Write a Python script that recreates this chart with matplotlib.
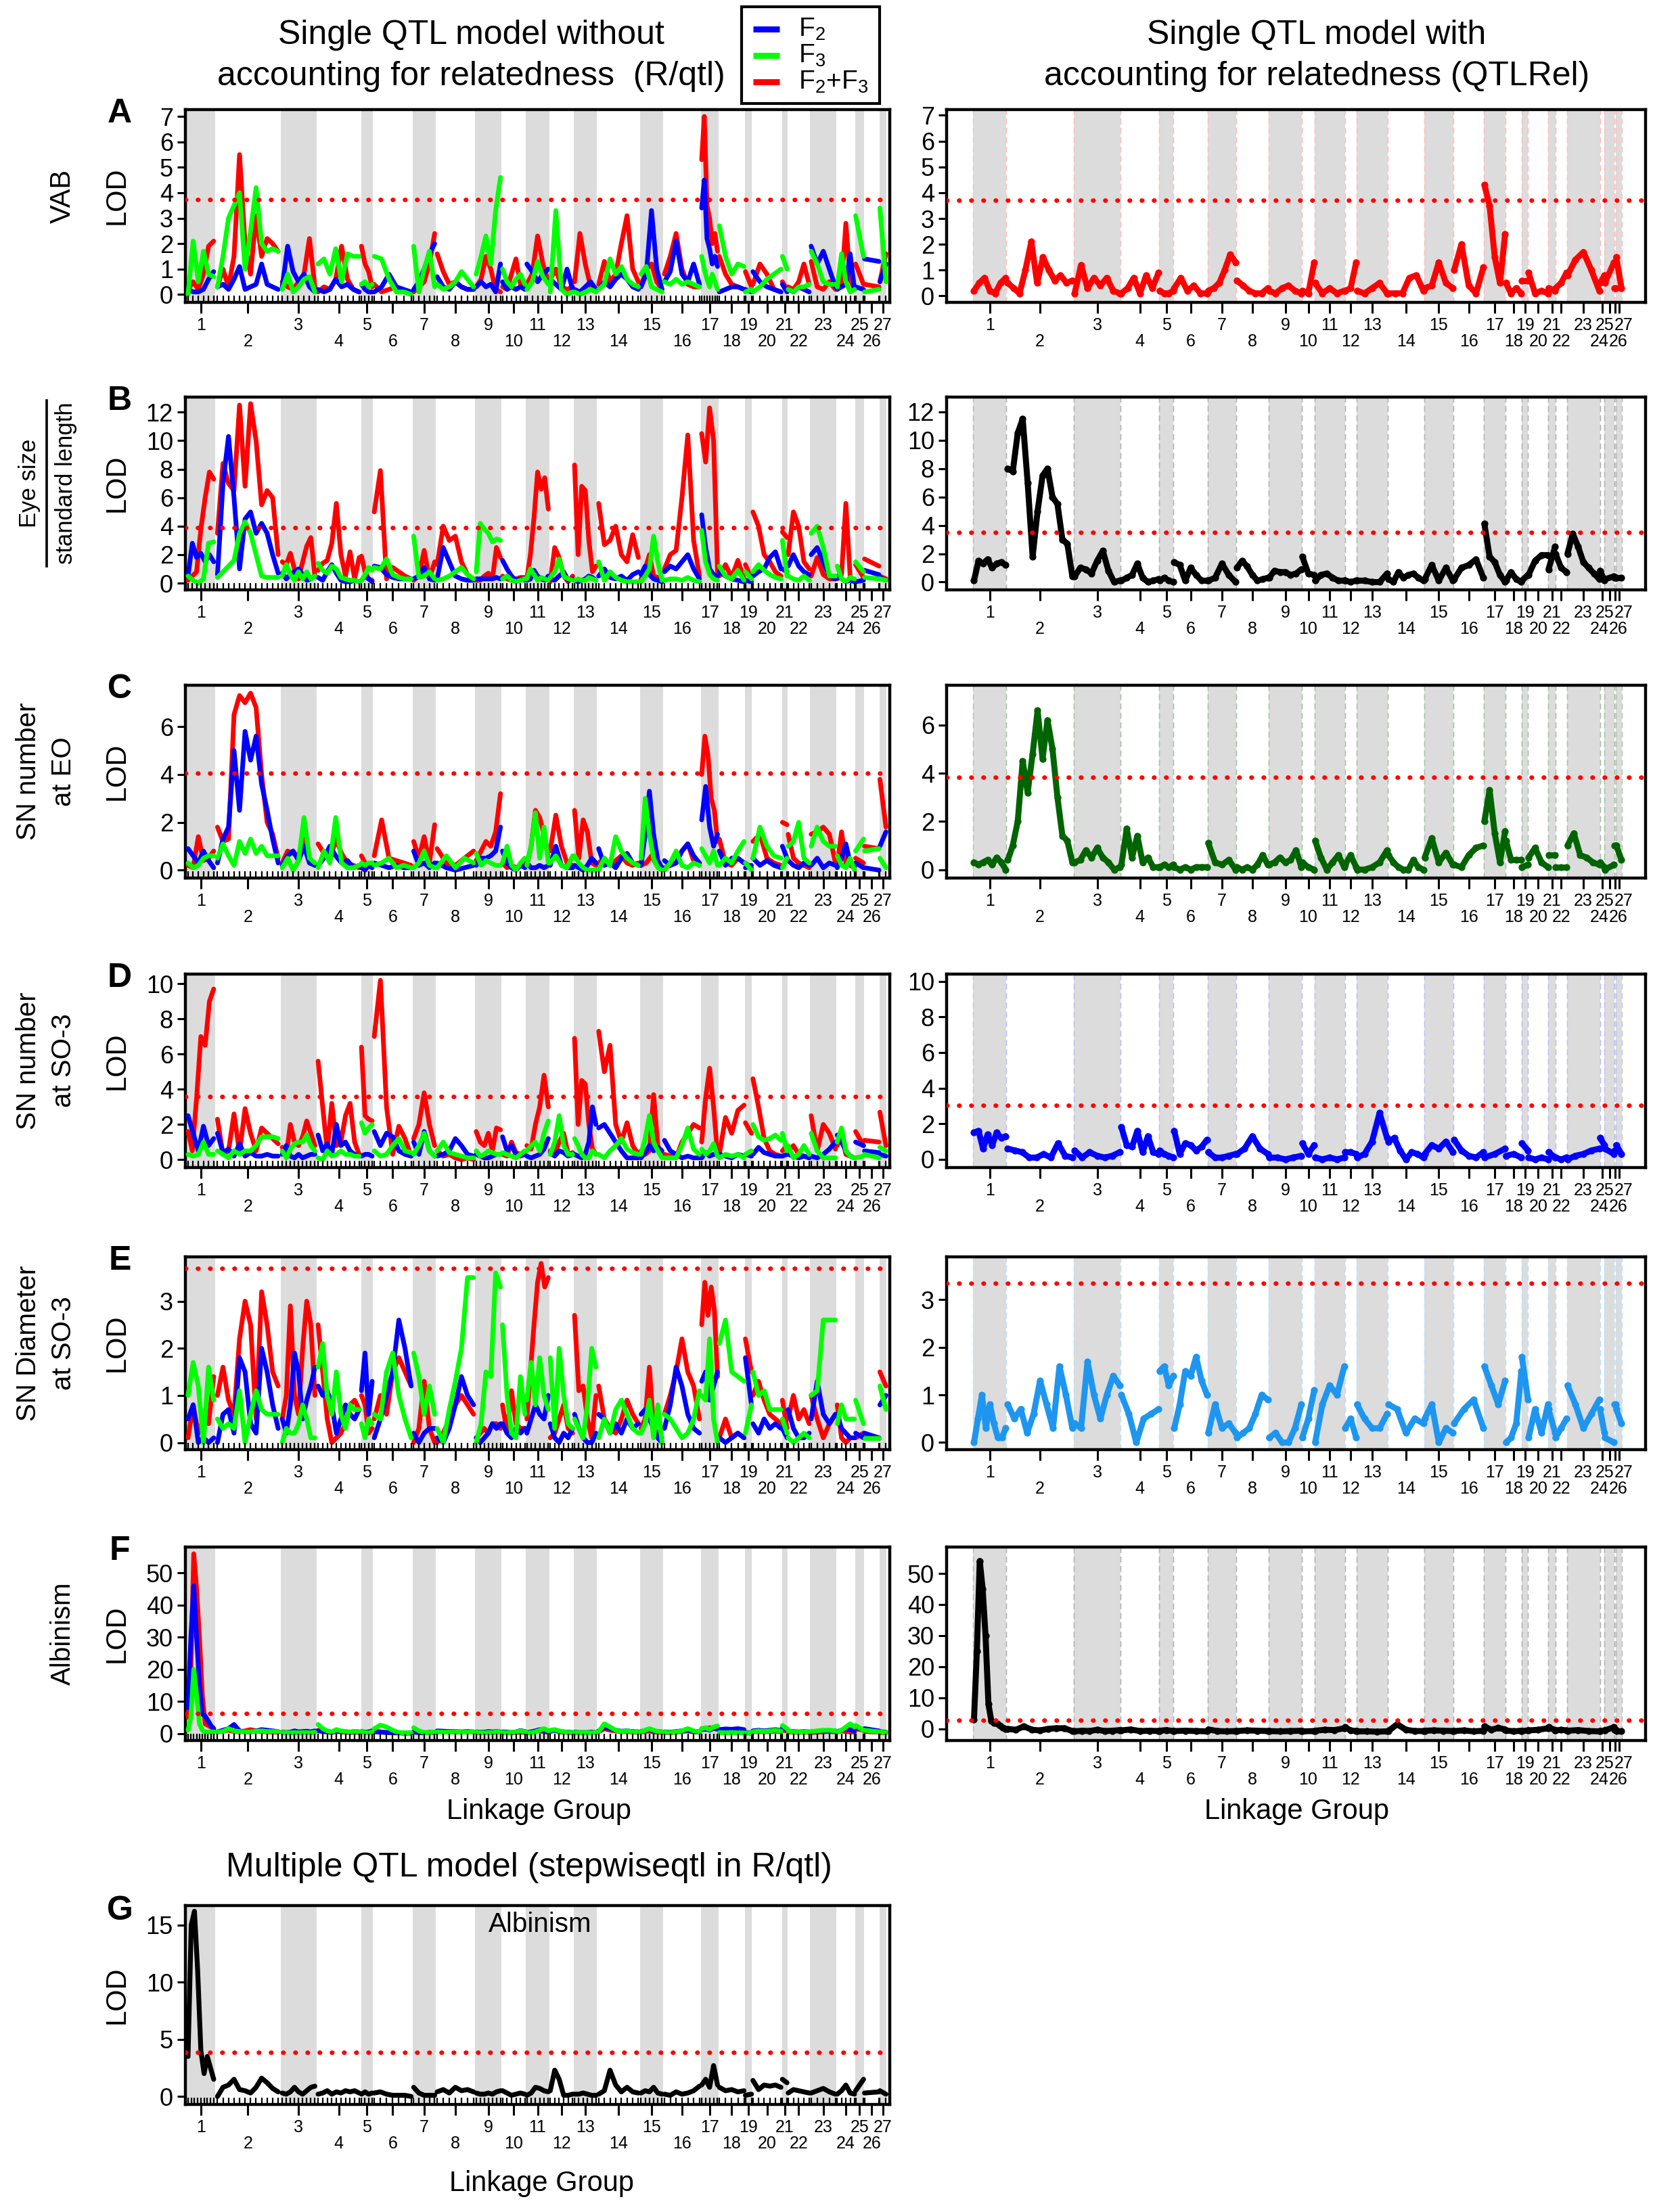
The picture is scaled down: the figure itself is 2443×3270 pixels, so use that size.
import numpy as np
import matplotlib
matplotlib.use("Agg")
import matplotlib.pyplot as plt
from matplotlib.lines import Line2D
from matplotlib.patches import Rectangle
from matplotlib.transforms import blended_transform_factory, offset_copy

plt.rcParams['font.family'] = ['Liberation Sans', 'DejaVu Sans']
plt.rcParams['mathtext.fontset'] = 'custom'
plt.rcParams['mathtext.rm'] = 'Liberation Sans'
plt.rcParams['mathtext.default'] = 'regular'

W, H, DPI = 2443, 3270, 200

CHROMS = [str(i) for i in range(1, 28)]
# linkage group widths (plot units)
LEFT_LEN = [55, 130, 70, 88, 23, 79, 45, 78, 52, 48, 46, 48, 46, 85, 45, 75, 34, 53, 13, 60, 10, 45, 52, 37, 17, 31, 13]
RIGHT_LEN = [72, 146, 102, 84, 31, 74, 62, 70, 73, 27, 66, 25, 68, 79, 64, 66, 47, 35, 14, 44, 15, 25, 72, 10, 21, 4, 12]

# ---- panel A : VAB ----
A_F2 = [[0.2,0.1,0.1,0.2,0.6,0.9],[0.3,0.4,0.2,0.6,1.1,0.2,0.3,0.4,1.2,0.4,0.3,0.2],[0.3,1.9,0.9,0.5,0.8,0.3,0.1],
        [0.2,0.1,0.2,0.6,0.3,0.4,0.2,0.1],[0.4,0.2,0.1,0.1],[0.1,0.3,0.8,0.3,0.2,0.1],[0.2,0.5,1.0,1.6,2.0],
        [0.7,0.3,0.2,0.5,0.3,0.2,0.2],[0.3,0.5,0.3,0.4,0.1,1.2],[0.5,0.2,0.3,0.2,0.3,0.2],[1.2,0.9,0.5,0.8,1.0],
        [0.6,0.4,0.2,1.0,0.2],[0.2,0.1,0.3,0.5,0.2],[0.2,0.5,0.3,0.6,0.8,0.6,0.3,0.2],[0.3,0.8,3.3,1.0,0.2],
        [0.5,0.9,2.1,0.8,0.5,1.2,0.4],[3.4,4.5,2.2,1.8,1.2,1.5,1.1],[0.1,0.2,0.3,0.3,0.2],[0.2,0.1],
        [0.9,0.5,0.3,0.2,0.1],[0.4,0.1],[0.2,0.1,0.3,0.2,0.1],[1.9,1.2,1.7,1.0,0.3],[0.2,0.3,0.4,1.6,0.2],
        [0.3,0.2],[1.4,1.3],[0.5,1.2]]
A_F3 = [[0.0,2.1,0.5,1.7,0.8,0.7],[0.3,1.5,3.0,3.5,4.0,1.0,2.5,4.2,2.0,1.7,1.8,1.7],[0.2,0.8,0.1,0.3,0.6,0.7,0.1],
        [1.2,1.4,0.8,1.8,0.5,1.6,1.5,1.5],[0.4,0.5,0.3,0.4],[1.5,1.4,0.6,0.1,0.1,0.0],[1.9,0.1,1.0,1.7,0.3],
        [0.4,0.2,0.3,0.5,0.9,0.6,0.3],[0.8,1.5,2.3,1.2,3.3,4.6],[1.0,0.5,0.3,0.6,0.8,0.4],[0.2,0.5,1.3,0.7,0.4],
        [0.1,3.3,0.2,0.0,0.1],[0.1,0.0,0.1,0.2,0.1],[0.2,0.4,1.4,0.8,1.1,0.6,0.4,0.3],[0.8,1.1,0.3,0.2,0.1],
        [0.5,0.4,0.6,0.4,0.5,0.4,0.3],[1.5,1.0,0.6,0.3,0.8,0.5,0.2],[2.7,1.5,0.8,1.2,1.1],[0.1,0.2],
        [0.1,0.3,0.6,0.8,1.0],[1.5,1.0],[0.2,0.1,0.3,0.3,0.4],[1.7,1.2,0.5,0.4,0.4],[0.3,1.6,0.5,0.1,0.2],
        [3.1,1.5],[0.1,0.2],[3.4,0.5]]
A_F23 = [[0.2,0.5,0.2,0.8,1.9,2.1],[0.3,1.0,0.3,1.5,5.5,2.0,0.8,3.1,1.5,2.2,2.0,1.7],[0.5,0.3,0.2,0.5,0.8,2.2,0.3],
         [0.1,0.3,0.2,0.6,1.9,0.6,0.2,0.1],[1.9,1.2,0.9,0.3],[0.4,0.1,0.2,0.3,0.1,0.1],[0.1,0.3,0.5,1.2,2.4],
         [1.6,0.9,0.4,0.5,0.3,0.2,0.2],[0.3,0.6,1.5,1.0,0.2,0.1],[0.3,0.2,0.8,1.4,0.4,0.2],[0.4,0.8,2.3,1.2,0.5],
         [0.6,1.0,0.3,0.2,0.3],[0.5,2.4,1.2,0.3,0.1],[0.4,1.3,0.5,0.8,2.0,3.1,1.0,0.5],[0.3,1.0,1.2,0.5,0.2],
         [0.8,1.5,2.4,1.0,0.4,0.3,0.3],[5.3,7.0,3.5,3.0,2.0,2.4,1.7],[1.5,0.8,0.4,0.3,0.2],[0.9,0.3],
         [0.4,1.2,0.8,0.2,0.1],[0.5,0.2],[0.3,0.2,0.5,1.2,0.4],[1.3,0.3,0.2,0.5,0.2],[0.3,0.4,2.8,0.6,0.2],
         [1.2,0.4],[0.4,0.3],[0.5,1.6]]

# ---- panel B : eye size / standard length ----
B_F2 = [[0.5,2.8,1.8,2.1,1.5,2.0,1.5],[0.6,7.0,10.3,6.0,1.0,4.5,5.0,3.5,4.2,3.5,2.0,0.7],[0.7,0.3,0.6,0.8,1.0,0.6,0.2,0.3,0.5],
        [0.4,0.2,0.8,1.3,0.7,0.2,0.1,0.1,0.2,0.1],[0.2,0.5,0.3,0.1],[1.2,1.1,0.6,0.4,0.3,0.3,0.3],[0.3,0.5,1.1,0.3,0.2],
        [0.3,2.5,1.5,0.5,0.3,0.2,0.2],[0.3,0.3,0.3,0.3,0.3,0.4,0.3],[1.6,1.0,0.5,0.2,0.3,0.2],[0.2,0.3,0.9,0.5,0.3,0.2,0.5],
        [0.3,0.2,0.5,0.8,0.2,0.3],[0.2,0.1,0.2,0.3,0.5,0.4,0.2],[0.5,1.0,0.4,0.3,0.5,0.2,0.6,0.8],[0.6,1.2,0.6,0.3,0.2,0.1],
        [0.8,1.2,1.0,1.5,2.0,1.0,0.3],[4.8,2.5,1.0,0.6,0.5],[0.8,0.5,0.3,0.2,0.1],[0.2,0.1],[0.5,0.8,1.0,1.8,2.2,1.0],
        [1.0,0.8],[1.2,2.0,1.2,0.8,0.6],[2.0,2.5,1.5,0.5,0.3],[0.5,0.3,0.1,0.2,0.1],[0.1,0.2],[0.9,0.6],[0.4,0.2]]
B_F3 = [[0.5,0.2,0.0,0.3,2.8,2.9],[0.4,0.8,1.2,1.6,3.5,4.3,3.5,2.0,0.5,0.4,0.4,0.4],[0.5,1.3,0.6,0.2,0.8,0.3,0.8,0.3,0.5],
        [1.4,0.9,0.7,1.2,1.0,0.4,0.3,0.2,0.2,0.1],[0.2,0.6,1.1,0.9],[1.1,1.0,1.7,0.6,0.4,0.3,0.3],[3.3,0.4,0.5,0.8,0.3],
        [0.2,0.3,0.5,0.8,1.1,0.6,0.3],[0.8,4.2,3.8,3.5,2.9,3.1,3.0],[0.3,0.5,0.2,0.1,0.2,0.3],[0.3,1.0,0.6,0.2,0.4,0.3,0.2],
        [0.4,0.8,1.7,0.5,0.3,0.2],[0.2,0.3,0.2,0.2,0.4,0.3,0.2],[1.5,0.2,0.8,0.4,0.2,0.1,0.1,0.1],[0.1,0.5,1.0,3.3,1.5,0.2],
        [0.2,0.3,0.3,0.2,0.4,0.2,0.1],[3.7,1.5,0.6,0.3,0.2],[1.2,0.5,0.3,0.9,0.2],[0.8,0.3],[0.8,1.3,0.9,0.6,0.4,0.3],
        [3.0,0.5],[0.5,0.3,0.2,0.5,0.2],[3.5,4.0,2.5,0.5,0.5],[1.2,0.3,0.1,0.4,0.3],[1.5,0.8],[0.4,0.3],[0.3,0.2]]
B_F23 = [[0.2,0.5,0.8,3.8,6.0,7.8,7.3],[3.5,8.4,7.0,6.5,12.5,6.8,12.6,10.0,5.5,6.5,6.0,2.0],[1.5,1.3,2.1,1.0,0.3,1.5,2.6,3.2,0.5],
         [0.9,1.4,1.6,2.8,5.6,2.0,0.5,2.2,0.3,1.8],[1.9,0.8,0.3,0.2],[5.0,7.9,0.3,1.1,0.8,0.5,0.3],[0.2,0.5,2.3,0.3,1.5],
         [1.3,4.0,3.0,3.3,1.5,0.6,0.3],[0.2,0.2,0.5,0.7,0.3,2.5,1.8],[0.5,0.3,0.2,0.3,0.4,0.4],[0.3,2.0,4.6,7.8,6.6,7.4,5.2],
         [0.1,2.5,1.8,0.5,0.1,0.5],[8.3,2.0,6.8,6.5,3.0,0.8,1.2],[5.6,2.7,3.0,4.0,2.0,1.5,3.4,1.8],[0.3,1.0,2.0,0.5,0.4,0.2],
         [1.0,2.0,2.3,6.0,10.4,3.0,0.5],[10.5,8.5,12.3,10.0,0.8],[0.5,1.3,0.4,1.6,0.3],[1.3,0.3],[5.0,4.0,2.0,1.5,0.8,0.5],
         [3.6,3.2],[2.0,5.0,4.0,1.5,1.0],[0.5,1.8,0.6,0.3,0.3],[0.3,0.6,5.6,0.4,0.2],[1.3,0.4],[1.7,1.2],[0.5,0.3]]

# ---- panel C : SN number at EO ----
C_F2 = [[0.9,0.6,0.3,0.8,0.4,0.1],[0.3,1.3,1.8,5.0,2.5,5.8,4.6,5.6,3.6,2.5,1.3,0.3],[0.2,0.6,0.8,0.4,1.0,0.3,0.2],
        [0.2,0.5,1.0,0.6,0.3,0.4,0.1,0.2],[0.1,0.0,0.2,0.1],[0.3,0.2,0.1,0.2,0.1,0.1],[0.8,0.2,0.3,0.1,0.3],
        [0.3,0.1,0.0,0.1,0.2],[0.2,0.5,0.5,0.6,0.8,1.8],[0.8,0.3,0.1,0.0,0.2,0.1],[0.3,0.1,0.1,0.2,0.1,0.2],
        [0.2,1.0,0.2,0.1,0.1],[0.2,0.1,0.0,0.2,0.5,0.3],[0.9,0.2,0.3,0.1,0.5,0.7,0.3,0.2],[0.2,1.5,3.3,1.5,0.4,0.1],
        [0.4,0.2,0.3,0.8,1.1,0.6,0.3],[2.1,3.5,1.8,1.0,1.5],[0.8,0.2,0.5,0.5,0.3],[0.1,0.2],[0.5,0.2,0.4,0.2,0.1],
        [1.0,0.5],[0.4,0.2,0.1,0.3,0.2],[0.2,0.5,0.1,0.3,0.2],[0.1,0.5,1.1,0.3,0.2],[0.3,0.1],[0.1,0.0],[1.0,1.6]]
C_F3 = [[0.3,0.1,0.2,0.5,0.6,0.6],[0.5,1.1,0.6,0.2,1.2,0.7,1.3,0.7,1.0,0.6,0.6,0.6],[0.1,0.5,0.0,0.4,2.2,0.5,0.3],
        [0.1,0.8,0.3,2.2,0.3,0.1,0.1,0.2],[0.3,0.2,0.3,0.3],[0.2,0.3,0.5,0.1,0.2,0.1],[0.1,0.3,0.8,0.2,0.1],
        [0.1,0.6,0.1,0.5,0.3],[0.7,0.2,0.4,0.3,0.2,0.2],[0.3,1.0,0.2,0.0,0.3,0.5],[0.2,1.0,2.4,0.5,1.8,0.3],
        [0.3,0.6,0.2,0.1,0.6],[0.6,0.3,0.1,0.0,0.0,0.0],[0.0,0.5,0.2,1.4,0.8,0.5,0.3,0.2],[0.5,3.0,1.5,0.5,0.1,0.0],
        [0.0,0.3,0.8,0.2,0.1,0.3,0.2],[0.9,0.6,0.3,0.8,0.2],[0.2,0.5,0.3,0.8,1.2],[0.3,0.0],[0.5,1.8,1.0,0.6,0.5],
        [0.1,0.5],[1.0,1.2,2.0,0.5,0.3],[1.0,1.8,1.2,1.0,1.0],[0.6,0.2,0.1,0.5,0.0],[0.8,1.3],[0.8,0.9],[0.5,0.1]]
C_F23 = [[0.2,0.1,1.4,0.4,0.5,0.8],[1.8,1.2,1.3,6.5,7.3,7.0,7.4,6.8,4.0,2.0,1.5,0.5],[0.3,0.8,0.7,0.6,1.3,0.5,0.2],
         [1.1,0.7,0.4,1.3,0.7,0.3,0.2,0.1],[0.6,0.3,0.2,0.2],[0.6,2.1,0.5,0.4,0.3,0.2],[1.2,0.5,1.4,0.3,1.9],
         [0.9,0.3,0.2,0.5,0.8],[0.4,0.8,1.2,1.0,1.6,3.2],[0.3,0.1,0.2,0.1,0.2,0.3],[0.2,1.0,2.5,2.2,1.5,0.5],
         [0.8,2.3,1.0,0.3,0.2],[2.5,0.5,2.1,1.6,0.3,0.2],[0.3,0.5,0.2,0.4,0.6,0.3,0.2,0.3],[0.2,0.3,0.6,0.2,0.1],
         [0.1,0.2,0.3,0.8,1.1,0.4,0.2],[4.0,5.6,4.8,3.0,2.5,1.2],[1.3,0.3,0.2,0.5,0.3],[0.3,0.1],[1.2,1.5,0.5,0.3,0.2],
         [2.0,1.9],[1.5,0.5,0.3,0.2,0.1],[1.5,1.6,1.8,1.5,0.3],[0.2,1.6,0.3,0.2,0.1],[0.5,0.3],[1.0,0.9],[3.8,1.8]]

# ---- panel D : SN number at SO-3 ----
D_F2 = [[2.5,1.5,0.5,1.9,0.8,1.2],[1.5,0.4,0.6,0.2,0.9,0.2,0.4,0.2,0.2,0.3,0.2,0.2],[0.3,0.8,0.2,0.1,0.3,0.1,0.2,0.3,0.3],
        [1.4,0.5,0.9,0.3,2.0,0.8,1.0,0.5,0.3,0.2],[0.2,0.3,0.3,0.2],[1.6,0.8,1.5,1.3,0.5,0.3,0.2],[1.0,0.3,1.6,0.5,0.2],
        [0.2,0.3,0.5,1.2,0.8,0.3,0.2],[0.3,0.2,0.1,0.1,0.2,0.3,0.3],[1.3,0.5,0.8,0.3,0.2,0.3],[0.2,0.1,0.2,0.3,0.6,1.2],
        [0.4,0.2,0.5,0.4,0.2,0.3],[0.3,0.2,0.1,0.3,1.0,3.0,2.0],[1.8,2.0,1.5,1.0,0.5,0.1,0.1,0.1],[0.1,0.4,0.8,0.5,0.7,0.5],
        [1.1,0.5,0.3,0.1,0.2,0.1,0.1],[0.1,0.4,0.2,0.3,0.3],[0.3,0.2,0.1,0.3,0.2],[0.3,0.2],[0.3,0.7,0.4,0.3,0.2,0.2],
        [0.2,0.3],[0.3,0.2,0.1,0.2,0.1],[0.2,0.1,0.3,0.6,1.0],[1.4,1.0,0.5,0.2,0.1],[1.0,0.8],[0.5,0.4],[0.3,0.2]]
D_F3 = [[0.3,0.2,0.3,1.0,0.3,0.3],[0.5,0.3,0.1,0.5,0.3,0.5,0.5,0.8,1.3,1.3,1.3,1.2],[0.5,0.1,0.6,0.9,1.0,1.0,1.4,0.8,0.5],
        [0.1,0.0,0.5,0.2,0.3,0.5,0.3,0.3,0.2,0.2],[2.1,1.5,1.8,2.0],[0.5,0.2,0.3,0.8,1.2,0.5,0.4],[0.3,0.8,1.5,0.5,0.2],
        [0.5,1.0,0.4,0.3,0.2,0.1,0.1],[0.5,0.2,0.3,0.5,0.4,0.3,0.3],[0.4,0.3,0.2,0.1,0.3,0.5],[0.5,0.8,1.0,0.5,1.5,2.2],
        [0.3,1.0,2.5,0.8,0.3,0.3],[1.2,0.8,0.3,0.1,0.1,0.5,0.3],[0.3,0.1,0.5,0.8,1.2,0.6,0.4,0.3],[0.3,1.2,2.5,1.0,0.5,0.1],
        [0.1,0.1,0.1,0.8,1.8,0.6,0.3],[0.6,0.3,0.5,0.9,0.2],[0.1,0.3,0.2,0.3,0.1],[0.3,0.5],[2.0,1.3,1.1,1.2,1.4,1.1],
        [1.5,0.5],[0.8,0.1,0.3,0.8,0.3],[1.5,0.5,0.1,0.1,0.1],[1.0,1.8,0.5,0.2,0.1],[0.1,0.2],[0.3,0.1],[0.7,0.5]]
D_F23 = [[1.6,0.5,3.5,7.0,6.5,9.0,9.7],[2.3,0.3,0.5,2.6,0.4,2.9,1.5,0.5,1.8,1.5,1.2,0.9],[0.7,0.3,2.0,1.0,0.8,1.3,2.2,1.5,0.8],
         [5.6,3.0,0.5,3.2,0.8,1.0,2.5,3.2,1.0,0.3],[6.4,2.5,2.3,2.2],[7.0,10.2,3.0,0.3,1.9,1.2,0.2],[1.2,2.0,3.8,2.0,0.8],
         [0.5,0.2,0.3,0.1,0.0,0.1,0.0],[1.6,1.0,0.8,1.5,0.5,1.8,1.7],[0.3,0.2,1.0,0.4,0.3,0.5],[0.8,0.6,2.0,3.0,4.8,3.0],
         [0.5,0.3,1.0,1.5,0.3,0.4],[6.9,2.0,4.5,4.3,2.0,0.6,0.3],[7.3,5.0,6.5,2.0,1.0,2.1,0.8,0.3],[0.5,0.3,0.5,3.7,0.8,0.2],
         [0.3,0.2,0.1,1.0,1.5,2.0,1.8],[1.0,3.5,5.2,3.0,0.3],[0.3,2.4,1.5,2.8,3.1],[2.1,1.5],[4.6,3.0,1.2,0.5,0.3,0.2],
         [0.5,0.8],[0.5,0.8,0.3,0.2,0.1],[2.5,0.5,2.0,1.5,0.6],[0.8,1.5,0.3,0.2,0.1],[1.6,0.8],[1.1,1.0],[2.7,0.8]]

# ---- panel E : SN diameter at SO-3 ----
E_F2 = [[0.5,0.8,0.0,0.1,0.0,0.1],[0.0,0.6,0.7,0.2,1.8,1.5,0.4,0.2,2.0,1.5,0.8,0.3],[0.5,0.2,0.8,1.9,1.5,0.5,0.9,1.2,1.6],
        [1.2,1.0,1.1,0.8,0.2,0.5,0.8,0.6,0.5,0.7],[1.1,1.9,0.6,1.3],[0.1,0.5,1.0,1.5,2.6,2.0,1.2],[0.2,0.0,0.2,0.3,0.3],
        [0.1,0.0,0.3,0.8,1.4,1.0,0.8],[0.1,0.0,0.1,0.2,0.4,0.3,0.4],[0.4,0.2,0.1,0.3,0.2,0.3],[0.2,0.5,0.8,0.6,0.5,1.0],
        [0.4,0.1,0.0,0.2,0.1,0.3],[0.6,0.3,0.1,0.0,0.0,0.2],[0.6,0.5,0.2,0.4,0.2,0.5,0.3,0.4],[0.6,0.7,0.5,0.3,0.1,0.0],
        [0.3,0.8,1.6,1.2,0.6,0.3,0.2],[1.3,1.5,0.9,1.2,1.5],[0.1,0.0,0.1,0.2,0.1],[1.8,0.8],[0.4,0.2,0.5,0.3,0.4,0.3],
        [0.3,0.1],[0.7,0.3,0.1,0.1,0.2],[0.5,1.3,0.6,0.4,0.6],[0.6,0.3,0.2,0.1,0.1],[0.2,0.1],[0.2,0.1],[0.8,1.0]]
E_F3 = [[1.0,1.7,1.2,0.0,1.6,0.9],[0.5,0.3,0.4,0.3,1.1,0.0,0.6,1.1,0.7,0.6,0.6,0.6],[0.0,0.3,0.2,0.2,0.4,0.8,0.5,0.1,0.1],
        [1.6,2.1,1.0,0.6,1.5,0.6,0.3,0.8,0.7,0.7],[0.4,0.1,0.5,0.4],[0.6,0.5,1.5,1.9,1.0,0.5,0.1],[1.9,1.4,0.6,1.2,0.6],
        [0.3,0.0,0.7,1.3,2.0,3.5,3.5],[0.0,0.4,1.5,1.4,3.6,3.3],[2.5,1.0,0.2,0.1,1.4,0.6],[0.9,1.7,0.8,1.8,1.0,0.7],
        [1.8,0.3,2.0,1.0,0.4,0.3],[0.5,0.3,0.1,0.8,2.0,1.6],[0.1,0.5,0.2,0.7,0.9,0.6,0.3,0.2],[0.2,0.4,0.9,0.1,0.8,0.0],
        [0.6,0.5,0.3,0.1,0.2,0.5,1.1],[1.0,0.9,2.2,0.5,0.0],[2.1,2.6,1.5,1.4,1.3],[0.2,0.8],[1.5,1.0,1.1,0.7,0.7,0.7],
        [0.5,0.2],[0.1,0.0,0.1,0.2,0.1],[1.0,1.1,2.6,2.6,2.6],[0.4,0.8,0.5,0.5,0.5],[0.9,0.4],[0.1,0.1],[1.2,0.7]]
E_F23 = [[0.1,0.8,0.2,0.5,0.4,1.4],[1.0,1.6,0.9,0.6,2.2,3.0,2.5,0.5,3.2,2.5,1.5,1.2],[0.5,1.0,2.9,1.0,0.6,2.0,3.0,2.5,1.0],
         [2.5,1.5,0.5,0.0,0.1,0.2,0.4,0.8,0.9,0.7],[1.0,0.8,0.2,0.3],[0.5,1.0,0.6,1.5,1.8,1.5,1.2],[0.0,0.3,1.3,0.3,0.0],
         [0.0,0.2,0.5,0.8,1.0,0.8,0.6],[0.1,0.2,0.3,0.2,0.4,0.4,0.3],[0.8,0.2,1.1,0.4,0.3,0.3],[0.5,1.5,2.5,3.4,3.8,3.3,3.5],
         [0.1,0.2,0.5,0.8,0.3,0.2],[2.7,1.1,1.2,0.5,0.1,1.0],[1.2,0.5,0.3,0.2,0.5,0.9,0.6,0.4],[0.3,0.5,1.6,0.3,0.2,0.1],
         [0.6,1.0,1.5,2.2,1.5,1.2,0.5],[2.5,3.4,2.7,3.3,2.8,1.4],[0.1,0.5,0.1,0.2,0.1],[2.2,1.5],[1.0,1.3,0.9,0.6,0.5,0.4],
         [0.9,0.3],[0.5,1.0,0.5,0.7,0.4],[1.0,0.5,0.1,0.4,0.6],[0.8,0.1,0.0,0.1,0.1],[0.1,0.2],[0.1,0.1],[1.5,1.2]]

# ---- panel F : albinism ----
F_F2 = [[8,30,46,30,15,6,5.5,4,2.5,1.5],[0.5,1.0,1.5,2.8,0.8,0.5,0.6,0.8,1.2,1.0,0.8,0.6],[0.4,0.3,0.4,0.8,0.5,0.6,0.7,0.5,0.8],
        [0.8,0.6,0.5,0.4,0.8,0.6,0.5,0.4,0.6,0.5],[0.6,0.4,0.5,0.8],[0.5,0.4,0.3,0.2,0.2,0.1,0.2],[0.4,0.3,0.2,0.3,0.3],
        [0.8,0.7,0.6,0.6,0.5,0.6,0.5],[0.5,0.4,0.4,0.6,0.5,0.6,0.5],[0.5,0.4,0.3,0.5,0.9,0.6],[0.3,0.5,0.8,1.2,0.8,0.6],
        [0.8,1.0,0.6,0.5,0.4,0.3],[0.4,0.3,0.3,0.3,0.4,0.3],[0.8,2.0,1.5,1.0,0.7,0.8,0.6,0.5],[0.6,0.9,1.2,0.8,0.6,0.5],
        [0.5,0.4,0.6,0.8,1.0,0.7,0.5],[1.2,1.5,1.0,1.6,1.5],[1.2,1.4,1.3,1.5,1.2],[0.3,0.2],[0.8,1.0,0.8,1.0,1.2,0.9],
        [1.8,1.2],[0.8,0.6,0.5,0.6,0.5],[0.5,0.6,0.8,0.9,0.8],[0.6,1.0,1.4,1.2,0.8],[2.0,1.2],[1.5,0.8],[0.6,0.4]]
F_F3 = [[1,5,20,12,3,1,0.5,0.5,0.5,0.5],[0.5,0.6,1.5,0.8,0.6,0.5,0.5,0.7,0.8,0.6,0.6,0.6],[0.3,0.2,0.2,0.3,0.2,0.3,0.3,0.2,0.4],
        [2.8,1.5,0.8,0.5,1.2,0.8,0.6,0.5,0.6,0.5],[0.5,0.3,0.2,0.5],[1.5,2.6,2.0,1.0,0.3,0.2,0.2],[1.8,0.8,0.3,0.2,0.4],
        [0.5,0.4,0.4,0.5,0.4,0.4,0.5],[0.4,0.3,0.2,0.3,0.3,0.5,0.4],[0.3,0.2,0.3,0.5,0.8,0.5],[0.3,0.2,0.5,1.0,1.5,0.8],
        [1.0,1.2,0.8,0.5,0.3,0.3],[0.3,0.2,0.3,0.2,0.2,0.3],[0.5,3.0,2.0,1.0,0.6,0.8,0.5,0.4],[0.5,1.0,1.5,1.0,0.6,0.5],
        [0.4,0.3,0.5,0.8,1.5,0.8,0.5],[1.5,1.8,1.2,2.0,2.3],[0.3,0.2,0.3,0.2,0.2],[0.1,0.2],[0.5,0.8,0.6,0.8,1.0,0.7],
        [2.5,1.5],[0.8,0.5,0.4,0.5,0.4],[0.6,0.8,1.0,1.0,0.8],[0.5,1.0,2.0,3.0,2.0],[2.5,1.0],[1.0,0.5],[0.5,0.3]]
F_F23 = [[5,20,56,45,30,12,3,2.5,2,1.5],[0.5,0.8,1.0,0.6,0.5,0.8,1.2,0.8,0.6,0.5,0.4,0.4],[0.3,0.2,0.3,0.5,0.3,0.4,0.5,0.3,0.4],
         [1.0,0.7,0.5,0.3,0.6,0.5,0.4,0.3,0.4,0.3],[0.5,0.3,0.4,0.3],[0.8,0.5,0.3,0.2,0.2,0.1,0.1],[0.5,0.3,0.2,0.3,0.2],
         [0.6,0.5,0.5,0.4,0.4,0.5,0.4],[0.3,0.2,0.3,0.4,0.3,0.4,0.4],[0.4,0.3,0.2,0.3,0.4,0.3],[0.2,0.4,0.6,0.8,0.5,0.4],
         [0.6,1.0,0.5,0.4,0.3,0.2],[0.3,0.2,0.2,0.2,0.3,0.2],[0.5,1.5,1.0,0.8,0.5,0.6,0.4,0.3],[0.4,0.6,0.8,0.5,0.4,0.3],
         [0.3,0.2,0.4,0.6,0.8,0.5,0.4],[1.5,1.2,1.8,1.5,1.3],[0.5,0.6,0.4,0.5,0.4],[0.2,0.1],[0.5,0.6,0.5,0.6,0.7,0.5],
         [1.0,0.8],[0.5,0.4,0.3,0.4,0.3],[0.3,0.4,0.5,0.6,0.5],[0.5,0.8,0.6,0.5,0.4],[1.5,1.0],[0.6,0.4],[0.3,0.2]]

# ---- panel G : multiple QTL model, albinism ----
G_LOD = [[3.5,15,16.2,11,4,2,3.5,2.5,1.5],[0.0,0.8,1.0,1.5,0.6,0.5,0.3,0.8,1.6,1.2,0.7,0.4],[0.3,0.2,0.4,0.8,0.4,0.2,0.5,0.8,0.9],
         [0.2,0.3,0.5,0.2,0.4,0.3,0.5,0.4,0.5,0.3],[0.2,0.4,0.2,0.3],[0.3,0.4,0.2,0.1,0.1,0.1,0.0],[0.8,0.3,0.1,0.1,0.1],
         [0.4,0.6,0.3,0.8,0.5,0.6,0.4],[0.3,0.2,0.2,0.3,0.2,0.4,0.5],[0.5,0.3,0.1,0.2,0.3,0.2],[0.1,0.3,0.8,0.7,0.5,0.4],
         [0.5,2.3,1.5,0.1,0.1,0.2],[0.2,0.2,0.3,0.2,0.1,0.1],[0.2,0.5,2.3,1.0,0.4,0.8,0.4,0.3],[0.3,0.5,0.4,0.8,0.3,0.2],
         [0.2,0.1,0.4,0.2,0.3,0.5,0.9],[1.0,1.5,0.8,2.7,1.0],[0.8,0.5,0.6,0.4,0.5],[0.1,0.2],[1.4,0.6,1.0,0.9,1.0,0.8],
         [1.5,1.2],[0.3,0.6,0.5,0.4,0.3],[0.3,0.5,0.7,0.4,0.2],[0.2,0.5,1.0,0.3,0.2],[0.5,1.5],[0.3,0.4],[0.5,0.2]]

# ---- right column : QTLRel ----
RA_LOD = [[0.2,0.5,0.7,0.2,0.1,0.5,0.7],[0.5,0.3,0.1,1.0,2.1,0.5,1.5,1.0,0.6,0.8,0.5,0.6],[0.1,1.2,0.3,0.7,0.4,0.7,0.2,0.1],
          [0.1,0.3,0.7,0.1,0.8,0.3,0.9],[0.2,0.1,0.1,0.2],[0.3,0.7,0.2,0.4,0.1,0.1],[0.2,0.3,0.5,1.0,1.6,1.3],
          [0.6,0.4,0.2,0.1,0.1,0.3],[0.2,0.1,0.3,0.4,0.2,0.1],[0.2,0.1,1.3],[0.5,0.1,0.3,0.1,0.2],[0.2,0.3,1.3],
          [0.2,0.1,0.3,0.5,0.1],[0.1,0.1,0.1,0.7,0.8,0.2],[0.3,0.4,1.3,0.5,0.3],[1.0,2.0,0.4,0.1,1.1],[4.3,3.5,1.5,0.5,2.4],
          [0.5,0.1,0.3,0.1],[0.6,0.6],[0.9,0.1,0.2,0.1],[0.3,0.2],[0.3,0.5,0.9],[0.8,1.4,1.7,1.0,0.2],[0.5,0.8],
          [0.5,1.3],[0.3,0.3],[1.5,0.3]]
RB_LOD = [[0.1,1.5,1.3,1.6,1.0,1.3,1.4,1.2],[8.0,7.8,10.5,11.5,7.0,1.8,5.0,7.5,8.0,6.0,5.5,3.0,2.7,0.4],
          [0.4,1.0,0.9,0.6,1.5,2.2,0.8,0.0,0.1],[0.1,0.3,0.5,1.3,0.3,0.0,0.1,0.2],[0.1,0.3,0.1,0.0],
          [1.4,1.2,0.1,1.0,0.5,0.1,0.1],[0.1,0.3,1.3,0.5,0.0],[1.0,1.5,1.1,0.5,0.1,0.2,0.3],[0.3,0.8,0.7,0.7,0.5,0.6,0.9],
          [1.8,0.6,0.5],[0.1,0.5,0.6,0.3,0.1,0.1],[0.1,0.0,0.1],[0.1,0.1,0.0,0.0,0.6],[0.2,0.0,0.7,0.3,0.5,0.6,0.3,0.1],
          [0.2,1.2,0.1,1.0,0.1],[0.2,1.0,1.2,1.6,0.3],[4.1,1.8,1.4,0.5,0.0],[0.1,0.7,0.2,0.0],[0.1,0.5],[0.5,1.5,1.9,1.9],
          [0.9,2.5],[2.0,1.0,0.7],[2.0,3.4,2.5,1.4,1.0,0.6,0.2],[0.8,0.1],[0.2,0.4],[0.3,0.3],[0.3,0.3]]
RC_LOD = [[0.3,0.2,0.3,0.4,0.2,0.5,0.3,0.0],[0.4,1.0,2.0,4.5,3.2,4.8,6.6,4.6,6.2,5.0,3.0,1.4,1.2,0.3],
          [0.3,0.4,0.8,0.5,0.9,0.5,0.3,0.0,0.1],[0.2,1.7,0.5,1.4,0.3,0.5,0.1,0.1],[0.1,0.2,0.1,0.2],
          [0.1,0.0,0.1,0.0,0.1,0.1,0.1],[1.1,0.3,0.2,0.4,0.0],[0.1,0.0,0.1,0.0,0.2,0.6,0.2],[0.2,0.3,0.5,0.3,0.4,0.8,0.1],
          [0.3,0.1,0.0],[1.2,0.5,0.0,0.3,0.6,0.1],[0.2,0.6,0.1],[0.0,0.0,0.1,0.3,0.8],[0.6,0.3,0.1,0.0,0.0,0.4,0.1,0.0],
          [0.5,1.3,0.3,0.7,0.2],[0.2,0.1,0.6,0.9,1.0],[2.0,3.3,1.5,0.3,1.6],[1.2,0.4,0.4,0.4],[0.1,0.2],[0.5,0.9,0.3,0.1],
          [0.6,0.6],[0.1,0.1,0.1],[1.0,1.5,0.6,0.5,0.3,0.2],[0.3,0.1],[0.0,0.2],[1.0,1.0],[1.0,0.4]]
RD_LOD = [[1.5,1.6,0.6,1.4,0.8,1.5,1.2,1.3],[0.6,0.5,0.4,0.1,0.1,0.3,0.1,0.9,0.2,0.1],[0.5,0.1,0.4,0.2,0.1,0.2,0.4],
          [1.8,0.8,0.7,1.6,0.4,1.3,0.4,0.3],[0.5,0.3,0.2,0.1],[1.6,0.3,0.9,0.8,0.5,0.7,1.1],[0.4,0.1,0.1,0.2,0.3],
          [0.3,0.6,1.3,0.6,0.3],[0.1,0.1,0.0,0.1,0.2],[0.9,0.3,0.8],[0.1,0.0,0.1,0.0,0.1],[0.4,0.4,0.3],
          [0.1,0.3,1.0,2.6,1.2],[1.0,1.2,0.5,0.0,0.4,0.3,0.1],[0.3,0.8,0.6,1.0,0.4],[1.1,0.5,0.2,0.1,0.4],[0.1,0.3,0.6],
          [0.2,0.3,0.1],[0.9,0.5],[0.1,0.0,0.1,0.0],[0.4,0.1],[0.1,0.0,0.1],[0.0,0.2,0.3,0.5,0.6],[1.2,0.8],[0.6,0.3],
          [0.5,0.5],[0.8,0.3]]
RE_LOD = [[0.0,0.5,1.0,0.3,0.8,0.4,0.1,0.1,0.3],[0.8,0.5,0.7,0.2,0.6,1.3,0.8,0.3,1.6,1.0,0.3],[0.4,0.3,1.7,1.0,0.5,1.0,1.4,1.2],
          [1.0,0.6,0.0,0.5,0.6,0.7],[1.5,1.6,1.2,1.4],[0.3,0.8,1.5,1.4,1.8,1.3,1.0],[0.2,0.8,0.3,0.4,0.2],
          [0.1,0.2,0.3,0.6,1.0,0.9],[0.1,0.2,0.0,0.0,0.3,0.8],[0.1,0.5,1.1],[0.0,0.8,1.2,1.0,1.6],[0.3,0.5,0.1],
          [0.8,0.5,0.3,0.3,0.6],[0.8,0.7,0.2,0.5,0.4],[0.5,0.8,0.0,0.3,0.2],[0.4,0.7,0.9,0.3],[1.6,1.2,0.8,1.3],
          [0.0,0.1,0.4,1.5],[1.8,0.9],[0.1,0.7,0.2,0.8],[0.7,0.2],[0.1,0.3,0.5],[1.2,0.8,0.3,0.6,0.9],[0.7,0.2],[0.1,0.0],
          [0.8,0.8],[0.7,0.4]]
RF_LOD = [[3,25,54,45,30,8,2.5,2,1.6,1,0.3,0.0],[0.0,-0.3,0.8,-0.3,-0.5,0.0,0.2,0.2,-0.7],[-0.8,-0.6,-0.7,-0.3,-0.7,-0.6,-0.4],
          [-0.5,-0.2,-0.7,-0.6,-0.7],[-0.6,-0.4,-0.7],[-0.7,-0.6,-0.7,-0.8],[-0.2,-0.7,-0.8,-0.7],[-0.7,-0.5,-0.6,-0.7],
          [-0.7,-0.8,-0.7,-0.6],[-0.8,-0.7],[-0.6,-0.3,-0.4,0.2],[0.5,-0.5,-0.7],[-0.8,-0.8,-0.9,-0.8],
          [-0.7,1.5,-0.3,-0.7,-0.7],[-0.6,-0.5,-0.6,-0.7],[-0.7,-0.5,-0.8,-0.6],[0.8,-0.3,0.3,-0.2],[-0.5,-0.8,-0.6],
          [-0.7,-0.5],[-0.5,-0.3,0.2],[0.5,-0.4],[-0.5,-0.3,-0.5],[-0.6,-0.4,-0.7,-0.8],[-0.8,-0.5],[-0.5,0.5],
          [-0.3,-0.3],[-0.8,-0.8]]

THRESH_LEFT = [3.74, 3.89, 4.06, 3.6, 3.69, 6.2]
THRESH_G = 3.85
THRESH_RIGHT = [3.70, 3.49, 3.83, 3.02, 3.34, 2.76]

BAND = '#dcdcdc'
BLUE, GREEN, RED = '#0000ff', '#00ff00', '#ff0000'


def chrom_starts(lengths):
    return np.concatenate([[0], np.cumsum(lengths)[:-1]])


def px_axes(fig, xr, yr):
    return fig.add_axes([xr[0] / W, 1 - yr[1] / H, (xr[1] - xr[0]) / W, (yr[1] - yr[0]) / H])


def ftext(fig, x, y, s, **kw):
    return fig.text(x / W, 1 - y / H, s, **kw)


def chrom_labels(ax, mids, min_gap):
    # labels sit on two rows (odd / even groups); crowded ones are nudged apart
    tr = blended_transform_factory(ax.transData, ax.transAxes)
    for row in (0, 1):
        idx = list(range(row, len(CHROMS), 2))
        pos = np.array([mids[i] for i in idx], dtype=float)
        for _ in range(60):
            for j in range(len(pos) - 1):
                gap = pos[j + 1] - pos[j]
                if gap < min_gap:
                    d = (min_gap - gap) / 2
                    pos[j] -= d
                    pos[j + 1] += d
        off = offset_copy(tr, fig=ax.figure, y=-(5.8 + 2.2) - row * 8.6, units='points')
        for j, i in enumerate(idx):
            ax.text(pos[j], 0, CHROMS[i], transform=off, ha='center', va='top', fontsize=9)


def style_axes(ax, lengths, xlim, ylim, yticks, thr, min_gap, vcolor=None):
    st = chrom_starts(lengths)
    for i in range(len(lengths)):
        if i % 2 == 0:
            ax.axvspan(st[i], st[i] + lengths[i], color=BAND, lw=0, zorder=0)
        if vcolor is not None:
            for xb in (st[i], st[i] + lengths[i]):
                ax.axvline(xb, color=vcolor, lw=0.5, ls=(0, (6, 4)), zorder=1)
    mids = st + np.asarray(lengths) / 2
    ax.set_xticks(mids)
    ax.set_xticklabels([])
    ax.tick_params(axis='x', length=5.8, width=1.1)
    ax.set_yticks(yticks)
    ax.tick_params(axis='y', length=4.5, width=1.1, pad=2, labelsize=13)
    ax.set_xlim(xlim)
    ax.set_ylim(ylim)
    for sp in ax.spines.values():
        sp.set_linewidth(1.6)
    ax.axhline(thr, color=RED, lw=2.4, ls=(0, (0.1, 2.6)), dash_capstyle='round', zorder=6)
    chrom_labels(ax, mids, min_gap)


def draw_series(ax, lengths, series, color, lw, pad_frac, circles=False):
    st = chrom_starts(lengths)
    xs_all = []
    for s, w, vals in zip(st, lengths, series):
        pad = w * pad_frac
        x = np.linspace(s + pad, s + w - pad, len(vals))
        xs_all.extend(x)
        if circles:
            ax.plot(x, vals, color=color, lw=lw, marker='o', ms=2.8, mfc='none', mew=0.9,
                    solid_joinstyle='round', solid_capstyle='round', zorder=3)
        else:
            ax.plot(x, vals, color=color, lw=lw, solid_joinstyle='round',
                    solid_capstyle='round', zorder=3)
    return np.array(xs_all)


def rug(ax, xs):
    tr = blended_transform_factory(ax.transData, ax.transAxes)
    ax.vlines(xs, 0, 0.035, transform=tr, color='black', lw=0.8, zorder=4)


fig = plt.figure(figsize=(W / DPI, H / DPI), dpi=DPI)

LEFT_X = (274, 1315)
RIGHT_X = (1399, 2432)
ROWS = [(162, 447), (587, 872), (1013, 1298), (1440, 1726), (1858, 2143), (2287, 2573)]
G_ROW = (2817, 3111)
LEFT_XLIM = (-3, 1385)
RIGHT_XLIM = (-58, 1460)
LEFT_GAP, RIGHT_GAP = 37, 42

left_panels = [
    ('A', A_F2, A_F3, A_F23, (-0.31, 7.27), range(0, 8)),
    ('B', B_F2, B_F3, B_F23, (-0.47, 13.06), range(0, 13, 2)),
    ('C', C_F2, C_F3, C_F23, (-0.33, 7.73), range(0, 7, 2)),
    ('D', D_F2, D_F3, D_F23, (-0.45, 10.55), range(0, 11, 2)),
    ('E', E_F2, E_F3, E_F23, (-0.15, 3.94), range(0, 4)),
    ('F', F_F2, F_F3, F_F23, (-2.2, 58.1), range(0, 51, 10)),
]
for k, (letter, f2, f3, f23, ylim, yt) in enumerate(left_panels):
    ax = px_axes(fig, LEFT_X, ROWS[k])
    style_axes(ax, LEFT_LEN, LEFT_XLIM, ylim, list(yt), THRESH_LEFT[k], LEFT_GAP)
    draw_series(ax, LEFT_LEN, f23, RED, 2.5, 0.04)
    xs = draw_series(ax, LEFT_LEN, f2, BLUE, 2.5, 0.04)
    draw_series(ax, LEFT_LEN, f3, GREEN, 2.5, 0.04)
    rug(ax, xs)
    top, bot = ROWS[k]
    ftext(fig, 177, top + 6, letter, fontsize=18, fontweight='bold', ha='center', va='center')
    ftext(fig, 173, (top + bot) / 2 - 15, 'LOD', fontsize=15, rotation=90, ha='center', va='center')

right_panels = [
    (RA_LOD, RED, '#ffc0c0', (-0.25, 7.22), range(0, 8)),
    (RB_LOD, 'black', '#b4b4b4', (-0.55, 13.04), range(0, 13, 2)),
    (RC_LOD, '#006400', '#a8c4a8', (-0.35, 7.65), range(0, 7, 2)),
    (RD_LOD, BLUE, '#c0c0f4', (-0.46, 10.4), range(0, 11, 2)),
    (RE_LOD, '#1e96f0', '#bfe2fa', (-0.15, 3.9), range(0, 4)),
    (RF_LOD, 'black', '#b4b4b4', (-3.75, 58.5), range(0, 51, 10)),
]
for k, (vals, col, vcol, ylim, yt) in enumerate(right_panels):
    ax = px_axes(fig, RIGHT_X, ROWS[k])
    style_axes(ax, RIGHT_LEN, RIGHT_XLIM, ylim, list(yt), THRESH_RIGHT[k], RIGHT_GAP, vcolor=vcol)
    draw_series(ax, RIGHT_LEN, vals, col, 3.2, 0.02, circles=True)

# panel G
ax = px_axes(fig, LEFT_X, G_ROW)
style_axes(ax, LEFT_LEN, LEFT_XLIM, (-0.7, 16.7), [0, 5, 10, 15], THRESH_G, LEFT_GAP)
xs = draw_series(ax, LEFT_LEN, G_LOD, 'black', 2.6, 0.04)
rug(ax, xs)
ax.text(0.504, 0.905, 'Albinism', transform=ax.transAxes, fontsize=14.5, ha='center', va='center')
ftext(fig, 177, G_ROW[0] + 8, 'G', fontsize=18, fontweight='bold', ha='center', va='center')
ftext(fig, 173, (G_ROW[0] + G_ROW[1]) / 2 - 15, 'LOD', fontsize=15, rotation=90, ha='center', va='center')


# trait labels
def cy(k):
    return (ROWS[k][0] + ROWS[k][1]) / 2 - 15


ftext(fig, 93, cy(0), 'VAB', fontsize=15, rotation=90, ha='center', va='center')
ftext(fig, 44, cy(1), 'Eye size', fontsize=12.5, rotation=90, ha='center', va='center')
ftext(fig, 98, cy(1), 'standard length', fontsize=12.5, rotation=90, ha='center', va='center')
fig.add_artist(Line2D([69 / W, 69 / W], [1 - (cy(1) - 122) / H, 1 - (cy(1) + 122) / H],
                      transform=fig.transFigure, color='black', lw=1.3))
for k, (l1, l2) in zip([2, 3, 4], [('SN number', 'at EO'), ('SN number', 'at SO-3'), ('SN Diameter', 'at SO-3')]):
    ftext(fig, 42, cy(k), l1, fontsize=14.5, rotation=90, ha='center', va='center')
    ftext(fig, 94, cy(k), l2, fontsize=14.5, rotation=90, ha='center', va='center')
ftext(fig, 93, cy(5), 'Albinism', fontsize=14.5, rotation=90, ha='center', va='center')

# titles
ftext(fig, 696, 52, 'Single QTL model without', fontsize=18, ha='center', va='center')
ftext(fig, 696, 113, 'accounting for relatedness  (R/qtl)', fontsize=18, ha='center', va='center')
ftext(fig, 1946, 52, 'Single QTL model with', fontsize=18, ha='center', va='center')
ftext(fig, 1946, 113, 'accounting for relatedness (QTLRel)', fontsize=18, ha='center', va='center')
ftext(fig, 782, 2761, 'Multiple QTL model (stepwiseqtl in R/qtl)', fontsize=18, ha='center', va='center')

ftext(fig, 797, 2678, 'Linkage Group', fontsize=15, ha='center', va='center')
ftext(fig, 1916, 2678, 'Linkage Group', fontsize=15, ha='center', va='center')
ftext(fig, 800, 3228, 'Linkage Group', fontsize=15, ha='center', va='center')

# legend box
fig.add_artist(Rectangle((1096 / W, 1 - 153 / H), 204 / W, 143 / H, transform=fig.transFigure,
                         fill=False, ec='black', lw=1.5))
for yy, col, lab in [(43, BLUE, r'F$_2$'), (82, GREEN, r'F$_3$'), (121, RED, r'F$_2$+F$_3$')]:
    fig.add_artist(Line2D([1113 / W, 1152 / W], [1 - yy / H, 1 - yy / H], transform=fig.transFigure,
                          color=col, lw=3.2, solid_capstyle='butt'))
    ftext(fig, 1180, yy, lab, fontsize=14, ha='left', va='center')

fig.savefig('out.png', dpi=DPI)
